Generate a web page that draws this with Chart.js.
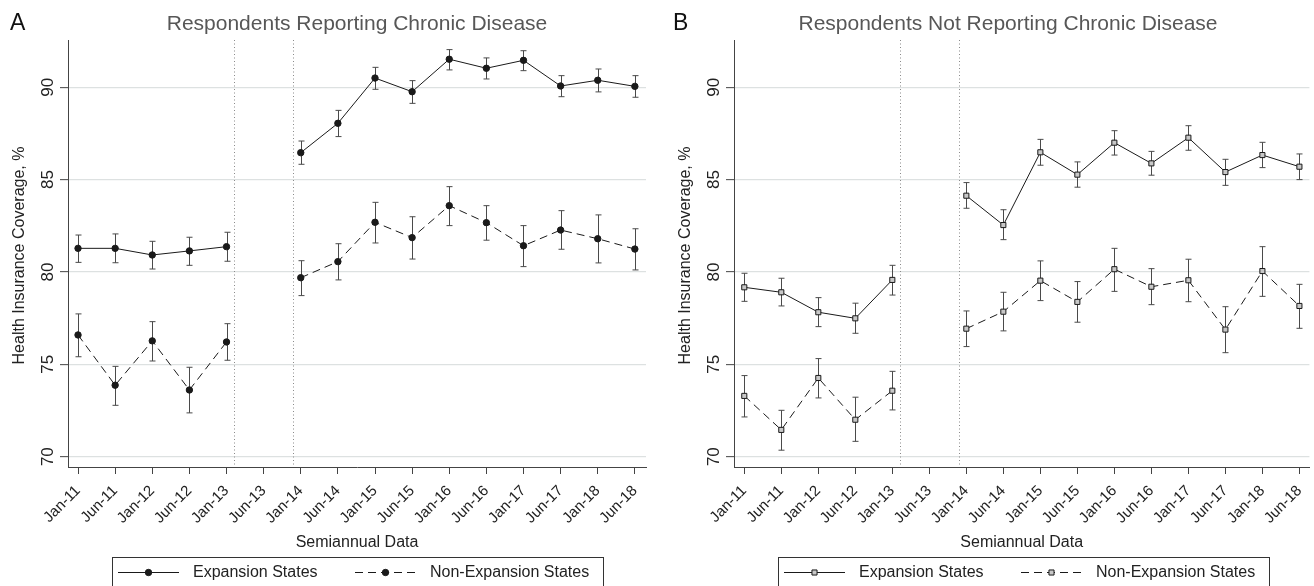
<!DOCTYPE html>
<html>
<head>
<meta charset="utf-8">
<script src="https://cdn.jsdelivr.net/npm/chart.js@4.4.1/dist/chart.umd.min.js"></script>
<style>
  html, body { margin: 0; padding: 0; background: #ffffff; }
  #wrap { position: relative; width: 1314px; height: 586px; overflow: hidden; background: #fff; }
  .panel { position: absolute; top: 0; width: 657px; height: 586px; }
  #pA { left: 0; }
  #pB { left: 657px; }
</style>
</head>
<body>
<div id="wrap">
  <div class="panel" id="pA"><canvas id="cA" width="657" height="586"></canvas></div>
  <div class="panel" id="pB"><canvas id="cB" width="657" height="586"></canvas></div>
</div>
<script>
// ---------- DATA ----------
const categories = ['Jan-11','Jun-11','Jan-12','Jun-12','Jan-13','Jun-13','Jan-14','Jun-14',
                    'Jan-15','Jun-15','Jan-16','Jun-16','Jan-17','Jun-17','Jan-18','Jun-18'];
const yTickValues = [70, 75, 80, 85, 90];
const breakLines = [4.2, 5.8];
const seriesNames = ['Expansion States', 'Non-Expansion States'];
const panelLetters = ['A', 'B'];
const panelTitles = ['Respondents Reporting Chronic Disease', 'Respondents Not Reporting Chronic Disease'];
const xAxisTitle = 'Semiannual Data';
const yAxisTitle = 'Health Insurance Coverage, %';

// Panel A – reporting chronic disease
const aExp    = [81.28, 81.28, 80.92, 81.14, 81.37, null, 86.46, 88.05, 90.50, 89.76, 91.52, 91.03, 91.46, 90.07, 90.38, 90.05];
const aExpLo  = [80.52, 80.50, 80.16, 80.36, 80.58, null, 85.83, 87.33, 89.89, 89.13, 90.94, 90.45, 90.90, 89.49, 89.75, 89.46];
const aExpHi  = [82.00, 82.06, 81.66, 81.88, 82.15, null, 87.09, 88.75, 91.08, 90.36, 92.04, 91.59, 91.98, 90.63, 90.99, 90.63];
const aNon    = [76.59, 73.87, 76.27, 73.61, 76.21, null, 79.69, 80.56, 82.69, 81.86, 83.59, 82.67, 81.42, 82.27, 81.80, 81.24];
const aNonLo  = [75.41, 72.78, 75.18, 72.37, 75.22, null, 78.72, 79.57, 81.57, 80.70, 82.51, 81.72, 80.29, 81.23, 80.49, 80.11];
const aNonHi  = [77.73, 74.89, 77.31, 74.84, 77.20, null, 80.61, 81.53, 83.77, 82.99, 84.62, 83.59, 82.51, 83.32, 83.09, 82.34];

// Panel B – not reporting chronic disease
const bExp    = [79.17, 78.90, 77.82, 77.49, 79.57, null, 84.13, 82.54, 86.48, 85.27, 87.00, 85.88, 87.27, 85.41, 86.33, 85.70];
const bExpLo  = [78.41, 78.16, 77.04, 76.68, 78.75, null, 83.45, 81.75, 85.78, 84.59, 86.33, 85.24, 86.59, 84.69, 85.65, 85.00];
const bExpHi  = [79.93, 79.66, 78.61, 78.31, 80.36, null, 84.84, 83.37, 87.18, 85.96, 87.65, 86.53, 87.92, 86.10, 87.02, 86.39];
const bNon    = [73.29, 71.45, 74.26, 72.00, 73.57, null, 76.93, 77.85, 79.53, 78.38, 80.15, 79.20, 79.55, 76.88, 80.05, 78.16];
const bNonLo  = [72.15, 70.35, 73.18, 70.83, 72.53, null, 75.96, 76.81, 78.45, 77.28, 78.95, 78.23, 78.39, 75.63, 78.68, 76.95];
const bNonHi  = [74.39, 72.51, 75.31, 73.22, 74.62, null, 77.89, 78.90, 80.60, 79.48, 81.28, 80.18, 80.69, 78.12, 81.37, 79.33];

// ---------- STYLE / LAYOUT ----------
const FONT = '"Liberation Sans", Arial, Helvetica, sans-serif';
Chart.defaults.font.family = FONT;
const INK = '#1a1a1a';
const AXIS = '#444444';
const GRID = '#dde1e1';

function pts(arr) { return arr.map((v, i) => ({ x: i, y: v })); }

function drawMarker(ctx, style, x, y, r, fill) {
  ctx.save();
  ctx.lineWidth = 1;
  ctx.strokeStyle = INK;
  ctx.fillStyle = fill;
  ctx.beginPath();
  if (style === 'rect') {
    const s = r * Math.SQRT1_2;
    ctx.rect(x - s, y - s, 2 * s, 2 * s);
  } else {
    ctx.arc(x, y, r, 0, Math.PI * 2);
  }
  ctx.fill();
  ctx.stroke();
  ctx.restore();
}

const panelPlugin = {
  id: 'panelDecor',
  beforeDatasetsDraw(chart) {
    const ctx = chart.ctx, xs = chart.scales.x, ys = chart.scales.y, ca = chart.chartArea;
    // dotted break lines
    ctx.save();
    ctx.strokeStyle = '#8a8a8a';
    ctx.lineWidth = 1;
    ctx.setLineDash([1, 2.5]);
    breakLines.forEach(v => {
      const px = Math.round(xs.getPixelForValue(v)) + 0.5;
      ctx.beginPath(); ctx.moveTo(px, ca.top); ctx.lineTo(px, ca.bottom); ctx.stroke();
    });
    ctx.restore();
    // error bars
    ctx.save();
    ctx.strokeStyle = '#4a4a4a';
    ctx.lineWidth = 1;
    chart.data.datasets.forEach(ds => {
      ds.errLo.forEach((lo, i) => {
        const hi = ds.errHi[i];
        if (lo == null || hi == null) return;
        const px = Math.round(xs.getPixelForValue(i)) + 0.5;
        const yl = ys.getPixelForValue(lo), yh = ys.getPixelForValue(hi);
        ctx.beginPath();
        ctx.moveTo(px, yl); ctx.lineTo(px, yh);
        ctx.moveTo(px - 3, yl); ctx.lineTo(px + 3, yl);
        ctx.moveTo(px - 3, yh); ctx.lineTo(px + 3, yh);
        ctx.stroke();
      });
    });
    ctx.restore();
  },
  afterDraw(chart, args, opts) {
    const ctx = chart.ctx, xs = chart.scales.x, ys = chart.scales.y, ca = chart.chartArea;
    const cx = (ca.left + ca.right) / 2;
    ctx.save();
    // panel letter
    ctx.fillStyle = '#111';
    ctx.font = '23px ' + FONT;
    ctx.textAlign = 'left'; ctx.textBaseline = 'alphabetic';
    ctx.fillText(opts.letter, opts.letterX, 29.5);
    // title
    ctx.fillStyle = '#575757';
    ctx.font = '21px ' + FONT;
    ctx.textAlign = 'center';
    ctx.fillText(opts.title, opts.titleX, 30);
    // y tick labels (rotated)
    ctx.fillStyle = '#222';
    ctx.font = '17px ' + FONT;
    ys.ticks.forEach(t => {
      const py = ys.getPixelForValue(t.value);
      ctx.save();
      ctx.translate(ca.left - 20, py);
      ctx.rotate(-Math.PI / 2);
      ctx.textAlign = 'center'; ctx.textBaseline = 'middle';
      ctx.fillText(String(t.value), 0, 0);
      ctx.restore();
    });
    // y axis title
    ctx.save();
    ctx.translate(ca.left - 48, (ca.top + ca.bottom) / 2 + 2);
    ctx.rotate(-Math.PI / 2);
    ctx.textAlign = 'center'; ctx.textBaseline = 'middle';
    ctx.font = '16px ' + FONT;
    ctx.fillText(yAxisTitle, 0, 0);
    ctx.restore();
    // x axis title
    ctx.textAlign = 'center'; ctx.textBaseline = 'middle';
    ctx.font = '16px ' + FONT;
    ctx.fillText(xAxisTitle, cx, 543);
    // legend
    const L = ca.left;
    ctx.strokeStyle = '#333';
    ctx.lineWidth = 1;
    ctx.strokeRect(Math.round(L + 44) + 0.5, 557.5, 491, 60);
    const ly = 572.5;
    chart.data.datasets.forEach((ds, k) => {
      const x0 = L + (k === 0 ? 50 : 287), x1 = x0 + 61, xm = (x0 + x1) / 2;
      ctx.save();
      ctx.strokeStyle = INK; ctx.lineWidth = 1;
      ctx.setLineDash(ds.borderDash || []);
      ctx.beginPath(); ctx.moveTo(x0, ly); ctx.lineTo(x1, ly); ctx.stroke();
      ctx.restore();
      drawMarker(ctx, ds.pointStyle, xm, ly, ds.pointRadius, ds.pointBackgroundColor);
      ctx.fillStyle = '#222';
      ctx.textAlign = 'left'; ctx.textBaseline = 'middle';
      ctx.font = '16px ' + FONT;
      ctx.fillText(ds.label, L + (k === 0 ? 125 : 362), ly + 0.5);
    });
    ctx.restore();
  }
};

function makePanel(canvasId, p) {
  const common = (vals, lo, hi, k) => ({
    label: seriesNames[k],
    data: pts(vals),
    errLo: lo, errHi: hi,
    borderColor: INK,
    borderWidth: 1,
    borderDash: k === 0 ? [] : [8, 5],
    pointStyle: p.marker,
    pointRadius: p.marker === 'rect' ? 3.6 : 3.2,
    pointHoverRadius: p.marker === 'rect' ? 3.6 : 3.2,
    pointBackgroundColor: p.markerFill,
    pointBorderColor: INK,
    pointBorderWidth: 1,
    spanGaps: false,
    tension: 0,
    fill: false
  });
  return new Chart(document.getElementById(canvasId), {
    type: 'line',
    data: {
      datasets: [
        common(p.exp, p.expLo, p.expHi, 0),
        common(p.non, p.nonLo, p.nonHi, 1)
      ]
    },
    options: {
      responsive: false,
      animation: false,
      devicePixelRatio: 1,
      layout: { padding: { top: 40, right: p.padRight, left: 0, bottom: 0 } },
      plugins: {
        legend: { display: false },
        title: { display: false },
        tooltip: { enabled: false },
        panelDecor: { letter: p.letter, letterX: p.letterX, title: p.title, titleX: p.titleX }
      },
      scales: {
        x: {
          type: 'linear',
          min: p.xMin, max: p.xMax,
          afterBuildTicks: s => { s.ticks = categories.map((c, i) => ({ value: i })); },
          afterFit: s => { s.height = 119; s.paddingLeft = 0; s.paddingRight = 0; },
          ticks: {
            autoSkip: false,
            minRotation: 45, maxRotation: 45,
            padding: 8,
            color: '#222',
            font: { size: 15 },
            callback: v => categories[Math.round(v)]
          },
          grid: { drawOnChartArea: false, drawTicks: true, tickLength: 7, tickColor: AXIS, tickWidth: 1 },
          border: { display: true, color: AXIS, width: 1 }
        },
        y: {
          type: 'linear',
          min: 69.44, max: 92.56,
          afterBuildTicks: s => { s.ticks = yTickValues.map(v => ({ value: v })); },
          afterFit: s => { s.width = p.axisLeft; s.paddingTop = 0; s.paddingBottom = 0; },
          ticks: { display: false },
          grid: { color: GRID, lineWidth: 1.3, drawTicks: true, tickLength: 8, tickColor: AXIS, tickWidth: 1 },
          border: { display: true, color: AXIS, width: 1 }
        }
      }
    },
    plugins: [panelPlugin]
  });
}

makePanel('cA', {
  letter: panelLetters[0], letterX: 10, title: panelTitles[0], titleX: 357,
  axisLeft: 68, padRight: 11, xMin: -0.27, xMax: 15.3,
  marker: 'circle', markerFill: INK,
  exp: aExp, expLo: aExpLo, expHi: aExpHi, non: aNon, nonLo: aNonLo, nonHi: aNonHi
});
makePanel('cB', {
  letter: panelLetters[1], letterX: 16, title: panelTitles[1], titleX: 351,
  axisLeft: 77, padRight: 4, xMin: -0.278, xMax: 15.27,
  marker: 'rect', markerFill: '#c8c8c8',
  exp: bExp, expLo: bExpLo, expHi: bExpHi, non: bNon, nonLo: bNonLo, nonHi: bNonHi
});
</script>
</body>
</html>
